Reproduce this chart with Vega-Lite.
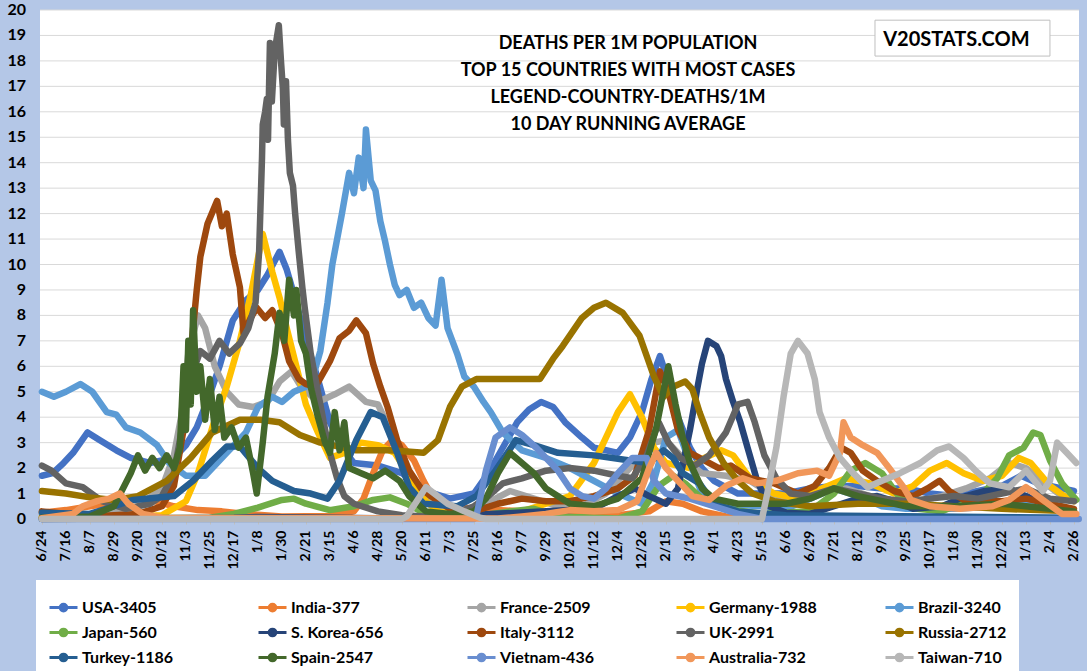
{
  "$schema": "https://vega.github.io/schema/vega-lite/v6.json",
  "width": 1039,
  "height": 509,
  "autosize": "none",
  "padding": {"left": 40, "top": 10, "right": 8, "bottom": 152},
  "background": "#B4C7E7",
  "config": {
    "view": {"fill": "white", "stroke": null},
    "font": "Lato",
    "axis": {"labelOverlap": false},
    "axisX": {"tickCount": 44, "labelOverlap": false}
  },
  "data": {
    "values": [
      {"c":"USA-3405","t":0,"v":1.7},{"c":"USA-3405","t":0.45,"v":1.8},{"c":"USA-3405","t":0.9,"v":2.2},{"c":"USA-3405","t":1.3,"v":2.6},{"c":"USA-3405","t":1.9,"v":3.4},{"c":"USA-3405","t":2.4,"v":3.1},{"c":"USA-3405","t":3.1,"v":2.7},{"c":"USA-3405","t":3.7,"v":2.4},{"c":"USA-3405","t":4.5,"v":2.2},{"c":"USA-3405","t":5.5,"v":2.4},{"c":"USA-3405","t":6,"v":2.9},{"c":"USA-3405","t":6.45,"v":3.6},{"c":"USA-3405","t":7,"v":4.9},{"c":"USA-3405","t":7.4,"v":6.0},{"c":"USA-3405","t":7.95,"v":7.8},{"c":"USA-3405","t":8.5,"v":8.6},{"c":"USA-3405","t":9,"v":9.0},{"c":"USA-3405","t":9.4,"v":9.6},{"c":"USA-3405","t":9.9,"v":10.5},{"c":"USA-3405","t":10.2,"v":9.8},{"c":"USA-3405","t":10.6,"v":8.5},{"c":"USA-3405","t":11,"v":7.0},{"c":"USA-3405","t":11.5,"v":5.5},{"c":"USA-3405","t":12,"v":3.8},{"c":"USA-3405","t":12.5,"v":2.8},{"c":"USA-3405","t":13,"v":2.2},{"c":"USA-3405","t":14,"v":2.1},{"c":"USA-3405","t":15,"v":1.8},{"c":"USA-3405","t":16,"v":1.1},{"c":"USA-3405","t":17,"v":0.8},{"c":"USA-3405","t":18,"v":1.0},{"c":"USA-3405","t":18.6,"v":1.8},{"c":"USA-3405","t":19.2,"v":2.8},{"c":"USA-3405","t":19.8,"v":3.8},{"c":"USA-3405","t":20.3,"v":4.3},{"c":"USA-3405","t":20.8,"v":4.6},{"c":"USA-3405","t":21.3,"v":4.4},{"c":"USA-3405","t":21.8,"v":3.8},{"c":"USA-3405","t":22.5,"v":3.2},{"c":"USA-3405","t":23,"v":2.8},{"c":"USA-3405","t":23.5,"v":2.7},{"c":"USA-3405","t":24,"v":2.6},{"c":"USA-3405","t":24.5,"v":3.2},{"c":"USA-3405","t":25,"v":4.2},{"c":"USA-3405","t":25.4,"v":5.5},{"c":"USA-3405","t":25.75,"v":6.4},{"c":"USA-3405","t":26.1,"v":5.4},{"c":"USA-3405","t":26.5,"v":4.0},{"c":"USA-3405","t":27,"v":2.8},{"c":"USA-3405","t":27.5,"v":2.0},{"c":"USA-3405","t":28,"v":1.5},{"c":"USA-3405","t":29,"v":1.0},{"c":"USA-3405","t":30,"v":1.0},{"c":"USA-3405","t":31,"v":1.0},{"c":"USA-3405","t":32,"v":1.2},{"c":"USA-3405","t":33,"v":1.3},{"c":"USA-3405","t":34,"v":1.3},{"c":"USA-3405","t":35,"v":1.2},{"c":"USA-3405","t":36,"v":1.2},{"c":"USA-3405","t":37,"v":1.0},{"c":"USA-3405","t":38,"v":0.9},{"c":"USA-3405","t":39,"v":1.1},{"c":"USA-3405","t":40,"v":1.3},{"c":"USA-3405","t":40.8,"v":1.7},{"c":"USA-3405","t":41.5,"v":1.4},{"c":"USA-3405","t":42,"v":1.3},{"c":"USA-3405","t":43,"v":1.1},

      {"c":"India-377","t":0,"v":0.25},{"c":"India-377","t":1,"v":0.35},{"c":"India-377","t":2,"v":0.5},{"c":"India-377","t":3,"v":0.65},{"c":"India-377","t":3.7,"v":0.8},{"c":"India-377","t":4.5,"v":0.75},{"c":"India-377","t":5.5,"v":0.5},{"c":"India-377","t":6.5,"v":0.35},{"c":"India-377","t":7.5,"v":0.3},{"c":"India-377","t":8.5,"v":0.2},{"c":"India-377","t":10,"v":0.1},{"c":"India-377","t":12,"v":0.12},{"c":"India-377","t":13,"v":0.3},{"c":"India-377","t":13.4,"v":0.8},{"c":"India-377","t":13.8,"v":1.8},{"c":"India-377","t":14.2,"v":2.7},{"c":"India-377","t":14.6,"v":3.1},{"c":"India-377","t":15,"v":2.9},{"c":"India-377","t":15.5,"v":2.3},{"c":"India-377","t":15.9,"v":1.5},{"c":"India-377","t":16.3,"v":0.8},{"c":"India-377","t":17,"v":0.5},{"c":"India-377","t":18,"v":0.4},{"c":"India-377","t":20,"v":0.3},{"c":"India-377","t":22,"v":0.2},{"c":"India-377","t":24,"v":0.15},{"c":"India-377","t":25.3,"v":0.3},{"c":"India-377","t":26,"v":0.7},{"c":"India-377","t":26.7,"v":0.6},{"c":"India-377","t":27.5,"v":0.3},{"c":"India-377","t":28.5,"v":0.1},{"c":"India-377","t":30,"v":0.05},{"c":"India-377","t":43,"v":0.02},

      {"c":"France-2509","t":0,"v":0.2},{"c":"France-2509","t":2,"v":0.15},{"c":"France-2509","t":3,"v":0.3},{"c":"France-2509","t":4,"v":0.5},{"c":"France-2509","t":5,"v":1.2},{"c":"France-2509","t":5.5,"v":2.5},{"c":"France-2509","t":5.8,"v":4.0},{"c":"France-2509","t":6.1,"v":6.5},{"c":"France-2509","t":6.5,"v":8.0},{"c":"France-2509","t":6.8,"v":7.5},{"c":"France-2509","t":7.2,"v":6.0},{"c":"France-2509","t":7.7,"v":5.0},{"c":"France-2509","t":8.2,"v":4.5},{"c":"France-2509","t":8.8,"v":4.4},{"c":"France-2509","t":9.4,"v":4.6},{"c":"France-2509","t":9.9,"v":5.4},{"c":"France-2509","t":10.4,"v":5.8},{"c":"France-2509","t":10.8,"v":5.2},{"c":"France-2509","t":11.5,"v":4.6},{"c":"France-2509","t":12.2,"v":4.9},{"c":"France-2509","t":12.8,"v":5.2},{"c":"France-2509","t":13.5,"v":4.6},{"c":"France-2509","t":14,"v":4.5},{"c":"France-2509","t":14.5,"v":3.5},{"c":"France-2509","t":15,"v":2.4},{"c":"France-2509","t":15.5,"v":1.5},{"c":"France-2509","t":16,"v":0.9},{"c":"France-2509","t":16.5,"v":0.5},{"c":"France-2509","t":17.5,"v":0.3},{"c":"France-2509","t":18.5,"v":0.6},{"c":"France-2509","t":19.5,"v":1.1},{"c":"France-2509","t":20.5,"v":0.8},{"c":"France-2509","t":21.5,"v":0.5},{"c":"France-2509","t":22.5,"v":0.5},{"c":"France-2509","t":23.5,"v":1.0},{"c":"France-2509","t":24.5,"v":2.0},{"c":"France-2509","t":25.5,"v":3.0},{"c":"France-2509","t":26,"v":3.1},{"c":"France-2509","t":26.7,"v":2.4},{"c":"France-2509","t":27.5,"v":1.8},{"c":"France-2509","t":28.5,"v":1.7},{"c":"France-2509","t":29.5,"v":1.5},{"c":"France-2509","t":30.5,"v":0.9},{"c":"France-2509","t":31.5,"v":0.8},{"c":"France-2509","t":32.5,"v":1.1},{"c":"France-2509","t":33.5,"v":1.2},{"c":"France-2509","t":34.5,"v":0.9},{"c":"France-2509","t":35.5,"v":0.6},{"c":"France-2509","t":36.5,"v":0.7},{"c":"France-2509","t":37.5,"v":0.9},{"c":"France-2509","t":38.5,"v":1.2},{"c":"France-2509","t":39.5,"v":1.6},{"c":"France-2509","t":40.3,"v":2.2},{"c":"France-2509","t":41,"v":2.0},{"c":"France-2509","t":41.8,"v":1.4},{"c":"France-2509","t":42.5,"v":0.9},{"c":"France-2509","t":43,"v":0.8},

      {"c":"Germany-1988","t":0,"v":0.08},{"c":"Germany-1988","t":3,"v":0.05},{"c":"Germany-1988","t":5,"v":0.15},{"c":"Germany-1988","t":6,"v":0.7},{"c":"Germany-1988","t":6.5,"v":1.8},{"c":"Germany-1988","t":7.1,"v":3.6},{"c":"Germany-1988","t":7.7,"v":5.2},{"c":"Germany-1988","t":8.25,"v":7.0},{"c":"Germany-1988","t":8.7,"v":8.8},{"c":"Germany-1988","t":9.2,"v":11.2},{"c":"Germany-1988","t":9.6,"v":9.7},{"c":"Germany-1988","t":9.9,"v":8.7},{"c":"Germany-1988","t":10.2,"v":7.5},{"c":"Germany-1988","t":10.6,"v":6.0},{"c":"Germany-1988","t":11,"v":4.5},{"c":"Germany-1988","t":11.5,"v":3.4},{"c":"Germany-1988","t":12,"v":2.4},{"c":"Germany-1988","t":12.6,"v":2.6},{"c":"Germany-1988","t":13.3,"v":3.0},{"c":"Germany-1988","t":14,"v":2.9},{"c":"Germany-1988","t":14.7,"v":2.6},{"c":"Germany-1988","t":15.3,"v":1.7},{"c":"Germany-1988","t":16,"v":0.7},{"c":"Germany-1988","t":16.5,"v":0.3},{"c":"Germany-1988","t":17.5,"v":0.15},{"c":"Germany-1988","t":19,"v":0.2},{"c":"Germany-1988","t":20,"v":0.3},{"c":"Germany-1988","t":21,"v":0.6},{"c":"Germany-1988","t":22,"v":0.9},{"c":"Germany-1988","t":23,"v":2.2},{"c":"Germany-1988","t":23.5,"v":3.2},{"c":"Germany-1988","t":24,"v":4.2},{"c":"Germany-1988","t":24.5,"v":4.9},{"c":"Germany-1988","t":25,"v":4.0},{"c":"Germany-1988","t":25.5,"v":2.8},{"c":"Germany-1988","t":26,"v":2.2},{"c":"Germany-1988","t":27,"v":2.0},{"c":"Germany-1988","t":27.6,"v":2.4},{"c":"Germany-1988","t":28.3,"v":2.7},{"c":"Germany-1988","t":28.8,"v":2.5},{"c":"Germany-1988","t":29.5,"v":1.6},{"c":"Germany-1988","t":30.5,"v":1.0},{"c":"Germany-1988","t":31.5,"v":0.8},{"c":"Germany-1988","t":32.5,"v":1.2},{"c":"Germany-1988","t":33.5,"v":1.6},{"c":"Germany-1988","t":34.5,"v":1.4},{"c":"Germany-1988","t":35.5,"v":1.0},{"c":"Germany-1988","t":36.3,"v":1.3},{"c":"Germany-1988","t":37,"v":1.9},{"c":"Germany-1988","t":37.7,"v":2.2},{"c":"Germany-1988","t":38.4,"v":1.8},{"c":"Germany-1988","t":39.2,"v":1.5},{"c":"Germany-1988","t":40,"v":1.7},{"c":"Germany-1988","t":40.7,"v":2.4},{"c":"Germany-1988","t":41.2,"v":2.2},{"c":"Germany-1988","t":42,"v":1.3},{"c":"Germany-1988","t":42.6,"v":0.9},{"c":"Germany-1988","t":43,"v":0.7},

      {"c":"Brazil-3240","t":0,"v":5.0},{"c":"Brazil-3240","t":0.5,"v":4.8},{"c":"Brazil-3240","t":1,"v":5.0},{"c":"Brazil-3240","t":1.6,"v":5.3},{"c":"Brazil-3240","t":2.1,"v":5.0},{"c":"Brazil-3240","t":2.7,"v":4.2},{"c":"Brazil-3240","t":3.1,"v":4.1},{"c":"Brazil-3240","t":3.5,"v":3.6},{"c":"Brazil-3240","t":4.1,"v":3.4},{"c":"Brazil-3240","t":4.8,"v":2.9},{"c":"Brazil-3240","t":5.3,"v":2.2},{"c":"Brazil-3240","t":6,"v":1.7},{"c":"Brazil-3240","t":6.8,"v":1.7},{"c":"Brazil-3240","t":7.7,"v":2.6},{"c":"Brazil-3240","t":8.5,"v":3.4},{"c":"Brazil-3240","t":9,"v":4.4},{"c":"Brazil-3240","t":9.6,"v":4.8},{"c":"Brazil-3240","t":10,"v":4.6},{"c":"Brazil-3240","t":10.5,"v":5.0},{"c":"Brazil-3240","t":11,"v":5.2},{"c":"Brazil-3240","t":11.3,"v":5.6},{"c":"Brazil-3240","t":11.6,"v":6.6},{"c":"Brazil-3240","t":11.9,"v":8.5},{"c":"Brazil-3240","t":12.1,"v":10.0},{"c":"Brazil-3240","t":12.5,"v":12.0},{"c":"Brazil-3240","t":12.8,"v":13.6},{"c":"Brazil-3240","t":13,"v":12.8},{"c":"Brazil-3240","t":13.2,"v":14.2},{"c":"Brazil-3240","t":13.4,"v":13.0},{"c":"Brazil-3240","t":13.5,"v":15.3},{"c":"Brazil-3240","t":13.7,"v":13.3},{"c":"Brazil-3240","t":13.9,"v":12.9},{"c":"Brazil-3240","t":14.1,"v":11.7},{"c":"Brazil-3240","t":14.3,"v":10.9},{"c":"Brazil-3240","t":14.5,"v":10.0},{"c":"Brazil-3240","t":14.7,"v":9.2},{"c":"Brazil-3240","t":14.9,"v":8.8},{"c":"Brazil-3240","t":15.2,"v":9.0},{"c":"Brazil-3240","t":15.5,"v":8.3},{"c":"Brazil-3240","t":15.8,"v":8.5},{"c":"Brazil-3240","t":16.1,"v":7.9},{"c":"Brazil-3240","t":16.4,"v":7.6},{"c":"Brazil-3240","t":16.65,"v":9.4},{"c":"Brazil-3240","t":16.9,"v":7.5},{"c":"Brazil-3240","t":17.3,"v":6.5},{"c":"Brazil-3240","t":17.6,"v":5.6},{"c":"Brazil-3240","t":18,"v":5.2},{"c":"Brazil-3240","t":18.4,"v":4.6},{"c":"Brazil-3240","t":18.7,"v":4.2},{"c":"Brazil-3240","t":19.2,"v":3.4},{"c":"Brazil-3240","t":20,"v":2.7},{"c":"Brazil-3240","t":21,"v":2.4},{"c":"Brazil-3240","t":22,"v":2.0},{"c":"Brazil-3240","t":23,"v":1.5},{"c":"Brazil-3240","t":24,"v":1.0},{"c":"Brazil-3240","t":25,"v":0.6},{"c":"Brazil-3240","t":25.5,"v":1.5},{"c":"Brazil-3240","t":26,"v":3.2},{"c":"Brazil-3240","t":26.5,"v":3.5},{"c":"Brazil-3240","t":27,"v":2.2},{"c":"Brazil-3240","t":27.5,"v":1.0},{"c":"Brazil-3240","t":28,"v":0.6},{"c":"Brazil-3240","t":30,"v":0.5},{"c":"Brazil-3240","t":31,"v":0.4},{"c":"Brazil-3240","t":32,"v":0.8},{"c":"Brazil-3240","t":33,"v":1.2},{"c":"Brazil-3240","t":34,"v":0.9},{"c":"Brazil-3240","t":35,"v":0.5},{"c":"Brazil-3240","t":36,"v":0.4},{"c":"Brazil-3240","t":38,"v":0.4},{"c":"Brazil-3240","t":40,"v":0.5},{"c":"Brazil-3240","t":41,"v":0.6},{"c":"Brazil-3240","t":42,"v":0.5},{"c":"Brazil-3240","t":43,"v":0.3},

      {"c":"Japan-560","t":0,"v":0.01},{"c":"Japan-560","t":7,"v":0.05},{"c":"Japan-560","t":8,"v":0.2},{"c":"Japan-560","t":9,"v":0.45},{"c":"Japan-560","t":10,"v":0.75},{"c":"Japan-560","t":10.5,"v":0.8},{"c":"Japan-560","t":11,"v":0.6},{"c":"Japan-560","t":12,"v":0.35},{"c":"Japan-560","t":13,"v":0.5},{"c":"Japan-560","t":13.8,"v":0.75},{"c":"Japan-560","t":14.5,"v":0.85},{"c":"Japan-560","t":15.2,"v":0.6},{"c":"Japan-560","t":16,"v":0.2},{"c":"Japan-560","t":18,"v":0.1},{"c":"Japan-560","t":19.5,"v":0.3},{"c":"Japan-560","t":20.5,"v":0.4},{"c":"Japan-560","t":21.5,"v":0.1},{"c":"Japan-560","t":24,"v":0.02},{"c":"Japan-560","t":25,"v":0.3},{"c":"Japan-560","t":25.7,"v":1.3},{"c":"Japan-560","t":26.3,"v":1.7},{"c":"Japan-560","t":26.8,"v":1.4},{"c":"Japan-560","t":27.5,"v":0.8},{"c":"Japan-560","t":28.5,"v":0.4},{"c":"Japan-560","t":30,"v":0.2},{"c":"Japan-560","t":32,"v":0.3},{"c":"Japan-560","t":33,"v":1.0},{"c":"Japan-560","t":33.7,"v":1.9},{"c":"Japan-560","t":34.3,"v":2.2},{"c":"Japan-560","t":35,"v":1.8},{"c":"Japan-560","t":35.7,"v":0.9},{"c":"Japan-560","t":36.5,"v":0.4},{"c":"Japan-560","t":37.5,"v":0.3},{"c":"Japan-560","t":38.5,"v":0.7},{"c":"Japan-560","t":39.2,"v":1.0},{"c":"Japan-560","t":39.8,"v":1.6},{"c":"Japan-560","t":40.3,"v":2.5},{"c":"Japan-560","t":40.9,"v":2.8},{"c":"Japan-560","t":41.3,"v":3.4},{"c":"Japan-560","t":41.6,"v":3.3},{"c":"Japan-560","t":42,"v":2.3},{"c":"Japan-560","t":42.5,"v":1.4},{"c":"Japan-560","t":43.1,"v":0.75},

      {"c":"S. Korea-656","t":0,"v":0.0},{"c":"S. Korea-656","t":8,"v":0.05},{"c":"S. Korea-656","t":9,"v":0.08},{"c":"S. Korea-656","t":15,"v":0.02},{"c":"S. Korea-656","t":23,"v":0.4},{"c":"S. Korea-656","t":24,"v":0.9},{"c":"S. Korea-656","t":24.7,"v":1.2},{"c":"S. Korea-656","t":25.3,"v":0.9},{"c":"S. Korea-656","t":26,"v":0.6},{"c":"S. Korea-656","t":26.5,"v":1.2},{"c":"S. Korea-656","t":27,"v":3.5},{"c":"S. Korea-656","t":27.3,"v":5.1},{"c":"S. Korea-656","t":27.5,"v":6.1},{"c":"S. Korea-656","t":27.75,"v":7.0},{"c":"S. Korea-656","t":28.1,"v":6.8},{"c":"S. Korea-656","t":28.3,"v":6.4},{"c":"S. Korea-656","t":28.5,"v":5.5},{"c":"S. Korea-656","t":28.8,"v":4.6},{"c":"S. Korea-656","t":29.1,"v":3.8},{"c":"S. Korea-656","t":29.4,"v":2.8},{"c":"S. Korea-656","t":29.8,"v":1.5},{"c":"S. Korea-656","t":30.3,"v":0.5},{"c":"S. Korea-656","t":31,"v":0.25},{"c":"S. Korea-656","t":32,"v":0.2},{"c":"S. Korea-656","t":33,"v":0.5},{"c":"S. Korea-656","t":34,"v":0.8},{"c":"S. Korea-656","t":34.8,"v":0.9},{"c":"S. Korea-656","t":35.5,"v":0.7},{"c":"S. Korea-656","t":36.3,"v":0.4},{"c":"S. Korea-656","t":37.5,"v":0.5},{"c":"S. Korea-656","t":38.5,"v":0.9},{"c":"S. Korea-656","t":39.3,"v":1.1},{"c":"S. Korea-656","t":40.3,"v":1.2},{"c":"S. Korea-656","t":41,"v":0.9},{"c":"S. Korea-656","t":42,"v":0.5},{"c":"S. Korea-656","t":43,"v":0.3},

      {"c":"Italy-3112","t":0,"v":0.3},{"c":"Italy-3112","t":2,"v":0.1},{"c":"Italy-3112","t":4,"v":0.2},{"c":"Italy-3112","t":5,"v":0.5},{"c":"Italy-3112","t":5.5,"v":1.3},{"c":"Italy-3112","t":5.9,"v":3.5},{"c":"Italy-3112","t":6.2,"v":6.5},{"c":"Italy-3112","t":6.45,"v":9.0},{"c":"Italy-3112","t":6.6,"v":10.3},{"c":"Italy-3112","t":6.9,"v":11.6},{"c":"Italy-3112","t":7.3,"v":12.5},{"c":"Italy-3112","t":7.5,"v":11.5},{"c":"Italy-3112","t":7.7,"v":12.0},{"c":"Italy-3112","t":7.95,"v":10.4},{"c":"Italy-3112","t":8.25,"v":9.1},{"c":"Italy-3112","t":8.4,"v":7.3},{"c":"Italy-3112","t":8.7,"v":7.9},{"c":"Italy-3112","t":8.95,"v":8.3},{"c":"Italy-3112","t":9.3,"v":7.9},{"c":"Italy-3112","t":9.6,"v":8.2},{"c":"Italy-3112","t":10,"v":7.3},{"c":"Italy-3112","t":10.3,"v":6.2},{"c":"Italy-3112","t":10.7,"v":5.5},{"c":"Italy-3112","t":11,"v":5.3},{"c":"Italy-3112","t":11.4,"v":5.2},{"c":"Italy-3112","t":12,"v":6.2},{"c":"Italy-3112","t":12.4,"v":7.1},{"c":"Italy-3112","t":12.8,"v":7.4},{"c":"Italy-3112","t":13.1,"v":7.8},{"c":"Italy-3112","t":13.5,"v":7.3},{"c":"Italy-3112","t":13.8,"v":6.1},{"c":"Italy-3112","t":14.1,"v":5.2},{"c":"Italy-3112","t":14.4,"v":4.4},{"c":"Italy-3112","t":14.8,"v":3.1},{"c":"Italy-3112","t":15.3,"v":1.9},{"c":"Italy-3112","t":15.8,"v":1.2},{"c":"Italy-3112","t":16.2,"v":0.9},{"c":"Italy-3112","t":17,"v":0.4},{"c":"Italy-3112","t":18,"v":0.3},{"c":"Italy-3112","t":19,"v":0.6},{"c":"Italy-3112","t":20,"v":0.8},{"c":"Italy-3112","t":21,"v":0.7},{"c":"Italy-3112","t":22,"v":0.7},{"c":"Italy-3112","t":23,"v":0.9},{"c":"Italy-3112","t":24,"v":1.2},{"c":"Italy-3112","t":24.7,"v":1.7},{"c":"Italy-3112","t":25.3,"v":3.5},{"c":"Italy-3112","t":25.75,"v":5.8},{"c":"Italy-3112","t":26.1,"v":5.0},{"c":"Italy-3112","t":26.5,"v":3.5},{"c":"Italy-3112","t":27,"v":2.6},{"c":"Italy-3112","t":27.6,"v":2.3},{"c":"Italy-3112","t":28.2,"v":2.0},{"c":"Italy-3112","t":28.7,"v":2.1},{"c":"Italy-3112","t":29.5,"v":1.6},{"c":"Italy-3112","t":30.5,"v":1.4},{"c":"Italy-3112","t":31.5,"v":1.0},{"c":"Italy-3112","t":32.2,"v":1.3},{"c":"Italy-3112","t":32.8,"v":2.0},{"c":"Italy-3112","t":33.3,"v":2.8},{"c":"Italy-3112","t":33.7,"v":2.6},{"c":"Italy-3112","t":34.2,"v":1.9},{"c":"Italy-3112","t":34.8,"v":1.5},{"c":"Italy-3112","t":35.5,"v":1.1},{"c":"Italy-3112","t":36.3,"v":0.9},{"c":"Italy-3112","t":36.9,"v":1.2},{"c":"Italy-3112","t":37.4,"v":1.5},{"c":"Italy-3112","t":37.8,"v":1.1},{"c":"Italy-3112","t":38.5,"v":0.7},{"c":"Italy-3112","t":40,"v":0.7},{"c":"Italy-3112","t":41,"v":0.8},{"c":"Italy-3112","t":42,"v":0.6},{"c":"Italy-3112","t":43,"v":0.4},

      {"c":"UK-2991","t":0,"v":2.1},{"c":"UK-2991","t":0.4,"v":1.9},{"c":"UK-2991","t":1,"v":1.4},{"c":"UK-2991","t":1.7,"v":1.25},{"c":"UK-2991","t":2.5,"v":0.7},{"c":"UK-2991","t":3.5,"v":0.4},{"c":"UK-2991","t":4.5,"v":0.6},{"c":"UK-2991","t":5,"v":0.9},{"c":"UK-2991","t":5.5,"v":1.8},{"c":"UK-2991","t":5.75,"v":3.1},{"c":"UK-2991","t":6,"v":4.5},{"c":"UK-2991","t":6.3,"v":5.8},{"c":"UK-2991","t":6.6,"v":6.6},{"c":"UK-2991","t":7,"v":6.3},{"c":"UK-2991","t":7.4,"v":7.0},{"c":"UK-2991","t":7.8,"v":6.5},{"c":"UK-2991","t":8.25,"v":6.9},{"c":"UK-2991","t":8.6,"v":7.5},{"c":"UK-2991","t":8.9,"v":8.5},{"c":"UK-2991","t":9.05,"v":10.5},{"c":"UK-2991","t":9.17,"v":14.2},{"c":"UK-2991","t":9.2,"v":15.5},{"c":"UK-2991","t":9.3,"v":16.0},{"c":"UK-2991","t":9.37,"v":16.5},{"c":"UK-2991","t":9.42,"v":14.9},{"c":"UK-2991","t":9.5,"v":18.7},{"c":"UK-2991","t":9.58,"v":16.4},{"c":"UK-2991","t":9.7,"v":18.4},{"c":"UK-2991","t":9.87,"v":19.4},{"c":"UK-2991","t":9.96,"v":18.0},{"c":"UK-2991","t":10.04,"v":16.9},{"c":"UK-2991","t":10.08,"v":15.5},{"c":"UK-2991","t":10.17,"v":17.2},{"c":"UK-2991","t":10.25,"v":14.9},{"c":"UK-2991","t":10.33,"v":13.6},{"c":"UK-2991","t":10.46,"v":13.1},{"c":"UK-2991","t":10.55,"v":12.0},{"c":"UK-2991","t":10.7,"v":10.5},{"c":"UK-2991","t":10.85,"v":9.1},{"c":"UK-2991","t":10.95,"v":8.3},{"c":"UK-2991","t":11.2,"v":6.5},{"c":"UK-2991","t":11.5,"v":5.0},{"c":"UK-2991","t":11.8,"v":3.5},{"c":"UK-2991","t":12,"v":2.6},{"c":"UK-2991","t":12.3,"v":1.6},{"c":"UK-2991","t":12.6,"v":0.9},{"c":"UK-2991","t":13,"v":0.6},{"c":"UK-2991","t":14,"v":0.3},{"c":"UK-2991","t":15,"v":0.15},{"c":"UK-2991","t":16,"v":0.1},{"c":"UK-2991","t":17,"v":0.15},{"c":"UK-2991","t":18,"v":0.5},{"c":"UK-2991","t":18.6,"v":0.9},{"c":"UK-2991","t":19.2,"v":1.4},{"c":"UK-2991","t":20,"v":1.6},{"c":"UK-2991","t":21,"v":1.9},{"c":"UK-2991","t":22,"v":2.0},{"c":"UK-2991","t":23,"v":1.9},{"c":"UK-2991","t":24,"v":1.7},{"c":"UK-2991","t":24.6,"v":1.6},{"c":"UK-2991","t":25.2,"v":2.5},{"c":"UK-2991","t":25.7,"v":3.8},{"c":"UK-2991","t":26.1,"v":3.0},{"c":"UK-2991","t":26.6,"v":2.4},{"c":"UK-2991","t":27.2,"v":2.1},{"c":"UK-2991","t":27.8,"v":2.5},{"c":"UK-2991","t":28.5,"v":3.4},{"c":"UK-2991","t":29,"v":4.5},{"c":"UK-2991","t":29.4,"v":4.6},{"c":"UK-2991","t":29.7,"v":3.8},{"c":"UK-2991","t":30.1,"v":2.5},{"c":"UK-2991","t":30.6,"v":1.6},{"c":"UK-2991","t":31.2,"v":1.0},{"c":"UK-2991","t":32,"v":0.9},{"c":"UK-2991","t":33,"v":1.2},{"c":"UK-2991","t":34,"v":1.0},{"c":"UK-2991","t":35,"v":0.8},{"c":"UK-2991","t":36,"v":0.7},{"c":"UK-2991","t":37,"v":0.8},{"c":"UK-2991","t":38,"v":0.9},{"c":"UK-2991","t":39,"v":0.8},{"c":"UK-2991","t":40,"v":1.0},{"c":"UK-2991","t":41,"v":1.2},{"c":"UK-2991","t":42,"v":0.8},{"c":"UK-2991","t":43,"v":0.7},

      {"c":"Russia-2712","t":0,"v":1.1},{"c":"Russia-2712","t":1,"v":1.0},{"c":"Russia-2712","t":2,"v":0.85},{"c":"Russia-2712","t":3,"v":0.75},{"c":"Russia-2712","t":4,"v":0.9},{"c":"Russia-2712","t":5.2,"v":1.5},{"c":"Russia-2712","t":6.2,"v":2.4},{"c":"Russia-2712","t":7.1,"v":3.4},{"c":"Russia-2712","t":8.25,"v":3.9},{"c":"Russia-2712","t":9.1,"v":3.9},{"c":"Russia-2712","t":9.9,"v":3.8},{"c":"Russia-2712","t":10.75,"v":3.3},{"c":"Russia-2712","t":11.6,"v":3.0},{"c":"Russia-2712","t":13.1,"v":2.7},{"c":"Russia-2712","t":14.5,"v":2.7},{"c":"Russia-2712","t":15.9,"v":2.6},{"c":"Russia-2712","t":16.5,"v":3.1},{"c":"Russia-2712","t":17,"v":4.4},{"c":"Russia-2712","t":17.5,"v":5.2},{"c":"Russia-2712","t":18.1,"v":5.5},{"c":"Russia-2712","t":18.9,"v":5.5},{"c":"Russia-2712","t":20,"v":5.5},{"c":"Russia-2712","t":20.75,"v":5.5},{"c":"Russia-2712","t":21.3,"v":6.3},{"c":"Russia-2712","t":21.7,"v":6.8},{"c":"Russia-2712","t":22.5,"v":7.9},{"c":"Russia-2712","t":23,"v":8.3},{"c":"Russia-2712","t":23.5,"v":8.5},{"c":"Russia-2712","t":24.2,"v":8.1},{"c":"Russia-2712","t":24.9,"v":7.2},{"c":"Russia-2712","t":25.5,"v":5.6},{"c":"Russia-2712","t":25.9,"v":4.8},{"c":"Russia-2712","t":26.3,"v":5.2},{"c":"Russia-2712","t":26.8,"v":5.4},{"c":"Russia-2712","t":27.1,"v":5.1},{"c":"Russia-2712","t":27.4,"v":4.2},{"c":"Russia-2712","t":27.8,"v":3.2},{"c":"Russia-2712","t":28.4,"v":2.2},{"c":"Russia-2712","t":29,"v":1.5},{"c":"Russia-2712","t":29.6,"v":1.0},{"c":"Russia-2712","t":30.5,"v":0.7},{"c":"Russia-2712","t":32,"v":0.5},{"c":"Russia-2712","t":34,"v":0.6},{"c":"Russia-2712","t":36,"v":0.6},{"c":"Russia-2712","t":38,"v":0.5},{"c":"Russia-2712","t":40,"v":0.4},{"c":"Russia-2712","t":43,"v":0.3},

      {"c":"Turkey-1186","t":0,"v":0.25},{"c":"Turkey-1186","t":2,"v":0.2},{"c":"Turkey-1186","t":3,"v":0.5},{"c":"Turkey-1186","t":3.8,"v":0.75},{"c":"Turkey-1186","t":5.5,"v":0.9},{"c":"Turkey-1186","t":6.3,"v":1.5},{"c":"Turkey-1186","t":7.1,"v":2.3},{"c":"Turkey-1186","t":7.7,"v":2.85},{"c":"Turkey-1186","t":8.25,"v":2.85},{"c":"Turkey-1186","t":9,"v":2.0},{"c":"Turkey-1186","t":9.6,"v":1.5},{"c":"Turkey-1186","t":10.5,"v":1.1},{"c":"Turkey-1186","t":11.2,"v":1.0},{"c":"Turkey-1186","t":11.9,"v":0.8},{"c":"Turkey-1186","t":12.4,"v":1.5},{"c":"Turkey-1186","t":13.1,"v":3.1},{"c":"Turkey-1186","t":13.7,"v":4.2},{"c":"Turkey-1186","t":14.2,"v":4.0},{"c":"Turkey-1186","t":14.8,"v":2.6},{"c":"Turkey-1186","t":15.3,"v":1.25},{"c":"Turkey-1186","t":15.9,"v":0.6},{"c":"Turkey-1186","t":17.3,"v":0.5},{"c":"Turkey-1186","t":18.1,"v":0.9},{"c":"Turkey-1186","t":18.9,"v":1.9},{"c":"Turkey-1186","t":19.75,"v":3.1},{"c":"Turkey-1186","t":20.5,"v":2.9},{"c":"Turkey-1186","t":21.5,"v":2.6},{"c":"Turkey-1186","t":23,"v":2.5},{"c":"Turkey-1186","t":24.5,"v":2.3},{"c":"Turkey-1186","t":25.3,"v":2.2},{"c":"Turkey-1186","t":25.9,"v":2.7},{"c":"Turkey-1186","t":26.3,"v":2.4},{"c":"Turkey-1186","t":26.7,"v":1.8},{"c":"Turkey-1186","t":27.4,"v":1.4},{"c":"Turkey-1186","t":28,"v":0.6},{"c":"Turkey-1186","t":29,"v":0.3},{"c":"Turkey-1186","t":31,"v":0.15},{"c":"Turkey-1186","t":43,"v":0.05},

      {"c":"Spain-2547","t":0,"v":0.05},{"c":"Spain-2547","t":2,"v":0.1},{"c":"Spain-2547","t":3,"v":0.5},{"c":"Spain-2547","t":3.7,"v":1.8},{"c":"Spain-2547","t":4,"v":2.5},{"c":"Spain-2547","t":4.3,"v":1.9},{"c":"Spain-2547","t":4.6,"v":2.4},{"c":"Spain-2547","t":4.9,"v":2.0},{"c":"Spain-2547","t":5.2,"v":2.5},{"c":"Spain-2547","t":5.5,"v":2.0},{"c":"Spain-2547","t":5.75,"v":2.8},{"c":"Spain-2547","t":5.9,"v":6.0},{"c":"Spain-2547","t":6.0,"v":3.5},{"c":"Spain-2547","t":6.1,"v":7.0},{"c":"Spain-2547","t":6.2,"v":4.5},{"c":"Spain-2547","t":6.3,"v":8.2},{"c":"Spain-2547","t":6.45,"v":5.0},{"c":"Spain-2547","t":6.6,"v":6.0},{"c":"Spain-2547","t":6.8,"v":3.9},{"c":"Spain-2547","t":7,"v":5.5},{"c":"Spain-2547","t":7.2,"v":3.5},{"c":"Spain-2547","t":7.4,"v":4.8},{"c":"Spain-2547","t":7.6,"v":3.2},{"c":"Spain-2547","t":7.9,"v":3.6},{"c":"Spain-2547","t":8.2,"v":2.8},{"c":"Spain-2547","t":8.5,"v":3.2},{"c":"Spain-2547","t":8.8,"v":1.8},{"c":"Spain-2547","t":8.95,"v":1.0},{"c":"Spain-2547","t":9.2,"v":3.0},{"c":"Spain-2547","t":9.4,"v":4.8},{"c":"Spain-2547","t":9.7,"v":6.5},{"c":"Spain-2547","t":9.9,"v":8.1},{"c":"Spain-2547","t":10.1,"v":7.0},{"c":"Spain-2547","t":10.3,"v":9.4},{"c":"Spain-2547","t":10.5,"v":8.0},{"c":"Spain-2547","t":10.6,"v":9.0},{"c":"Spain-2547","t":10.8,"v":7.0},{"c":"Spain-2547","t":11,"v":6.5},{"c":"Spain-2547","t":11.2,"v":5.2},{"c":"Spain-2547","t":11.5,"v":4.0},{"c":"Spain-2547","t":11.8,"v":3.0},{"c":"Spain-2547","t":12,"v":2.6},{"c":"Spain-2547","t":12.2,"v":4.2},{"c":"Spain-2547","t":12.4,"v":2.7},{"c":"Spain-2547","t":12.6,"v":3.8},{"c":"Spain-2547","t":12.8,"v":2.0},{"c":"Spain-2547","t":13.3,"v":1.8},{"c":"Spain-2547","t":13.8,"v":1.6},{"c":"Spain-2547","t":14.3,"v":1.9},{"c":"Spain-2547","t":14.9,"v":1.5},{"c":"Spain-2547","t":15.3,"v":0.9},{"c":"Spain-2547","t":16,"v":0.3},{"c":"Spain-2547","t":17,"v":0.2},{"c":"Spain-2547","t":18,"v":0.3},{"c":"Spain-2547","t":18.5,"v":0.8},{"c":"Spain-2547","t":19,"v":1.8},{"c":"Spain-2547","t":19.5,"v":2.6},{"c":"Spain-2547","t":20,"v":2.2},{"c":"Spain-2547","t":20.5,"v":1.8},{"c":"Spain-2547","t":21,"v":1.2},{"c":"Spain-2547","t":22,"v":0.6},{"c":"Spain-2547","t":23,"v":0.5},{"c":"Spain-2547","t":24,"v":0.8},{"c":"Spain-2547","t":25,"v":1.6},{"c":"Spain-2547","t":25.6,"v":3.6},{"c":"Spain-2547","t":26.1,"v":6.0},{"c":"Spain-2547","t":26.4,"v":4.5},{"c":"Spain-2547","t":26.7,"v":3.2},{"c":"Spain-2547","t":27,"v":2.2},{"c":"Spain-2547","t":27.5,"v":1.2},{"c":"Spain-2547","t":28,"v":0.8},{"c":"Spain-2547","t":29,"v":0.6},{"c":"Spain-2547","t":31,"v":0.6},{"c":"Spain-2547","t":32,"v":0.8},{"c":"Spain-2547","t":33,"v":1.2},{"c":"Spain-2547","t":34,"v":0.9},{"c":"Spain-2547","t":35,"v":0.7},{"c":"Spain-2547","t":36,"v":0.5},{"c":"Spain-2547","t":38,"v":0.5},{"c":"Spain-2547","t":40,"v":0.6},{"c":"Spain-2547","t":41,"v":0.5},{"c":"Spain-2547","t":43,"v":0.3},

      {"c":"Vietnam-436","t":0,"v":0},{"c":"Vietnam-436","t":18,"v":0},{"c":"Vietnam-436","t":18.1,"v":0.1},{"c":"Vietnam-436","t":18.5,"v":1.9},{"c":"Vietnam-436","t":18.9,"v":3.2},{"c":"Vietnam-436","t":19.5,"v":3.6},{"c":"Vietnam-436","t":20,"v":3.3},{"c":"Vietnam-436","t":20.6,"v":2.8},{"c":"Vietnam-436","t":21.5,"v":1.9},{"c":"Vietnam-436","t":22,"v":1.2},{"c":"Vietnam-436","t":22.5,"v":0.9},{"c":"Vietnam-436","t":23,"v":0.8},{"c":"Vietnam-436","t":23.5,"v":1.2},{"c":"Vietnam-436","t":24,"v":1.8},{"c":"Vietnam-436","t":24.6,"v":2.4},{"c":"Vietnam-436","t":25.2,"v":2.4},{"c":"Vietnam-436","t":25.5,"v":1.5},{"c":"Vietnam-436","t":26,"v":1.0},{"c":"Vietnam-436","t":27,"v":0.8},{"c":"Vietnam-436","t":28,"v":0.5},{"c":"Vietnam-436","t":29,"v":0.2},{"c":"Vietnam-436","t":30,"v":0},{"c":"Vietnam-436","t":43.2,"v":0},

      {"c":"Australia-732","t":0,"v":0.03},{"c":"Australia-732","t":1.3,"v":0.2},{"c":"Australia-732","t":1.7,"v":0.5},{"c":"Australia-732","t":2.3,"v":0.7},{"c":"Australia-732","t":2.8,"v":0.8},{"c":"Australia-732","t":3.25,"v":1.0},{"c":"Australia-732","t":3.6,"v":0.6},{"c":"Australia-732","t":4.2,"v":0.2},{"c":"Australia-732","t":5,"v":0.05},{"c":"Australia-732","t":19,"v":0.02},{"c":"Australia-732","t":20,"v":0.1},{"c":"Australia-732","t":21,"v":0.2},{"c":"Australia-732","t":22,"v":0.35},{"c":"Australia-732","t":23,"v":0.3},{"c":"Australia-732","t":24,"v":0.35},{"c":"Australia-732","t":24.8,"v":0.7},{"c":"Australia-732","t":25.3,"v":2.0},{"c":"Australia-732","t":25.6,"v":2.6},{"c":"Australia-732","t":26,"v":2.0},{"c":"Australia-732","t":26.6,"v":1.4},{"c":"Australia-732","t":27.1,"v":0.9},{"c":"Australia-732","t":27.8,"v":0.75},{"c":"Australia-732","t":28.5,"v":1.3},{"c":"Australia-732","t":29.2,"v":1.6},{"c":"Australia-732","t":29.8,"v":1.4},{"c":"Australia-732","t":30.6,"v":1.5},{"c":"Australia-732","t":31.5,"v":1.8},{"c":"Australia-732","t":32.3,"v":1.9},{"c":"Australia-732","t":32.8,"v":1.7},{"c":"Australia-732","t":33.25,"v":2.6},{"c":"Australia-732","t":33.4,"v":3.8},{"c":"Australia-732","t":33.7,"v":3.2},{"c":"Australia-732","t":34.2,"v":2.9},{"c":"Australia-732","t":34.8,"v":2.6},{"c":"Australia-732","t":35.3,"v":2.0},{"c":"Australia-732","t":35.9,"v":1.25},{"c":"Australia-732","t":36.2,"v":0.75},{"c":"Australia-732","t":37,"v":0.5},{"c":"Australia-732","t":38.25,"v":0.4},{"c":"Australia-732","t":39.6,"v":0.5},{"c":"Australia-732","t":40.3,"v":0.75},{"c":"Australia-732","t":41,"v":1.25},{"c":"Australia-732","t":41.7,"v":0.75},{"c":"Australia-732","t":42.5,"v":0.2},{"c":"Australia-732","t":43.1,"v":0.2},

      {"c":"Taiwan-710","t":0,"v":0},{"c":"Taiwan-710","t":15,"v":0},{"c":"Taiwan-710","t":15.2,"v":0.1},{"c":"Taiwan-710","t":16,"v":1.25},{"c":"Taiwan-710","t":16.9,"v":0.6},{"c":"Taiwan-710","t":17.6,"v":0.3},{"c":"Taiwan-710","t":18.25,"v":0.05},{"c":"Taiwan-710","t":18.5,"v":0},{"c":"Taiwan-710","t":30,"v":0},{"c":"Taiwan-710","t":30.2,"v":0.9},{"c":"Taiwan-710","t":30.6,"v":2.8},{"c":"Taiwan-710","t":30.9,"v":4.8},{"c":"Taiwan-710","t":31.2,"v":6.5},{"c":"Taiwan-710","t":31.5,"v":7.0},{"c":"Taiwan-710","t":31.9,"v":6.5},{"c":"Taiwan-710","t":32.2,"v":5.5},{"c":"Taiwan-710","t":32.4,"v":4.2},{"c":"Taiwan-710","t":32.8,"v":3.2},{"c":"Taiwan-710","t":33.25,"v":2.4},{"c":"Taiwan-710","t":33.8,"v":1.8},{"c":"Taiwan-710","t":34.4,"v":1.25},{"c":"Taiwan-710","t":35,"v":1.5},{"c":"Taiwan-710","t":35.75,"v":1.8},{"c":"Taiwan-710","t":36.6,"v":2.2},{"c":"Taiwan-710","t":37.3,"v":2.7},{"c":"Taiwan-710","t":37.8,"v":2.85},{"c":"Taiwan-710","t":38.4,"v":2.4},{"c":"Taiwan-710","t":38.9,"v":1.9},{"c":"Taiwan-710","t":39.5,"v":1.4},{"c":"Taiwan-710","t":40.3,"v":1.25},{"c":"Taiwan-710","t":41,"v":1.9},{"c":"Taiwan-710","t":41.7,"v":1.1},{"c":"Taiwan-710","t":42,"v":1.5},{"c":"Taiwan-710","t":42.3,"v":3.0},{"c":"Taiwan-710","t":42.7,"v":2.6},{"c":"Taiwan-710","t":43.1,"v":2.2}
    ]
  },
  "layer": [
    {
      "data": {"values": [{"g":0},{"g":1},{"g":2},{"g":3},{"g":4},{"g":5},{"g":6},{"g":7},{"g":8},{"g":9},{"g":10},{"g":11},{"g":12},{"g":13},{"g":14},{"g":15},{"g":16},{"g":17},{"g":18},{"g":19},{"g":20}]},
      "mark": {"type": "rule", "color": "#d9d9d9", "strokeWidth": 1},
      "encoding": {
        "y": {"field": "g", "type": "quantitative", "axis": null}
      }
    },
    {
      "data": {"values": [{"g":0},{"g":1},{"g":2},{"g":3},{"g":4},{"g":5},{"g":6},{"g":7},{"g":8},{"g":9},{"g":10},{"g":11},{"g":12},{"g":13},{"g":14},{"g":15},{"g":16},{"g":17},{"g":18},{"g":19},{"g":20}]},
      "mark": {"type": "text", "align": "right", "baseline": "middle", "font": "Lato", "fontSize": 16, "fontWeight": "bold", "color": "#000000"},
      "encoding": {
        "x": {"datum": -0.663, "type": "quantitative"},
        "y": {"field": "g", "type": "quantitative", "axis": null},
        "text": {"field": "g", "type": "quantitative"}
      }
    },
    {
      "mark": {"type": "line", "strokeWidth": 6.5, "strokeJoin": "round", "strokeCap": "round"},
      "encoding": {
        "x": {
          "field": "t",
          "type": "quantitative",
          "scale": {"domain": [-0.08, 43.21], "nice": false, "zero": false},
          "axis": {
            "title": null,
            "values": [0,1,2,3,4,5,6,7,8,9,10,11,12,13,14,15,16,17,18,19,20,21,22,23,24,25,26,27,28,29,30,31,32,33,34,35,36,37,38,39,40,41,42,43],
            "tickCount": 44,
            "labelExpr": "['6/24','7/16','8/7','8/29','9/20','10/12','11/3','11/25','12/17','1/8','1/30','2/21','3/15','4/6','4/28','5/20','6/11','7/3','7/25','8/16','9/7','9/29','10/21','11/12','12/4','12/26','2/15','3/10','4/1','4/23','5/15','6/6','6/29','7/21','8/12','9/3','9/25','10/17','11/8','11/30','12/22','1/13','2/4','2/26'][datum.value]",
            "labelAngle": -90,
            "labelFont": "Lato",
            "labelFontSize": 14,
            "labelFontWeight": "bold",
            "labelColor": "#000000",
            "labelPadding": 6,
            "labelOverlap": false,
            "labelFlush": false,
            "grid": false,
            "domainColor": "#bfbfbf",
            "tickColor": "#bfbfbf",
            "tickSize": 5
          }
        },
        "y": {
          "field": "v",
          "type": "quantitative",
          "scale": {"domain": [0, 20], "nice": false},
          "axis": null
        },
        "color": {
          "field": "c",
          "type": "nominal",
          "scale": {
            "domain": ["USA-3405","India-377","France-2509","Germany-1988","Brazil-3240","Japan-560","S. Korea-656","Italy-3112","UK-2991","Russia-2712","Turkey-1186","Spain-2547","Vietnam-436","Australia-732","Taiwan-710"],
            "range": ["#4472C4","#ED7D31","#A5A5A5","#FFC000","#5B9BD5","#70AD47","#264478","#9E480E","#636363","#997300","#255E91","#43682B","#698ED0","#F1975A","#B7B7B7"]
          },
          "legend": {
            "title": null,
            "orient": "none",
            "legendX": -4,
            "legendY": 570,
            "direction": "horizontal",
            "columns": 5,
            "gridAlign": "all",
            "fillColor": "white",
            "padding": 12,
            "columnPadding": 62,
            "rowPadding": 0,
            "symbolType": "M-1,0L1,0M0.24,0A0.24,0.24,0,1,1,-0.24,0A0.24,0.24,0,1,1,0.24,0",
            "symbolSize": 784,
            "symbolStrokeWidth": 3,
            "labelFont": "Lato",
            "labelFontSize": 16,
            "labelFontWeight": "bold",
            "labelColor": "#000000",
            "labelOffset": 3,
            "labelLimit": 250,
            "encode": {
              "symbols": {"update": {"fill": {"scale": "color", "field": "value"}, "stroke": {"scale": "color", "field": "value"}, "opacity": {"value": 1}}}
            }
          }
        }
      }
    },
    {
      "data": {"values": [{}]},
      "mark": {
        "type": "text",
        "text": ["DEATHS PER 1M POPULATION", "TOP 15 COUNTRIES WITH MOST CASES", "LEGEND-COUNTRY-DEATHS/1M", "10 DAY RUNNING AVERAGE"],
        "font": "Lato",
        "fontSize": 18,
        "fontWeight": "bold",
        "color": "#000000",
        "align": "center",
        "baseline": "top",
        "lineHeight": 27
      },
      "encoding": {
        "x": {"datum": 24.42, "type": "quantitative"},
        "y": {"datum": 19.0, "type": "quantitative", "axis": null}
      }
    },
    {
      "data": {"values": [{}]},
      "mark": {"type": "rect", "fill": "white", "stroke": "#bfbfbf", "strokeWidth": 1},
      "encoding": {
        "x": {"datum": 34.71, "type": "quantitative"},
        "x2": {"datum": 42.0},
        "y": {"datum": 19.6, "type": "quantitative", "axis": null},
        "y2": {"datum": 18.19}
      }
    },
    {
      "data": {"values": [{}]},
      "mark": {"type": "text", "text": "V20STATS.COM", "font": "Lato", "fontSize": 20, "fontWeight": "bold", "color": "#000000", "align": "center", "baseline": "middle"},
      "encoding": {
        "x": {"datum": 38.1, "type": "quantitative"},
        "y": {"datum": 18.82, "type": "quantitative", "axis": null}
      }
    }
  ]
}
